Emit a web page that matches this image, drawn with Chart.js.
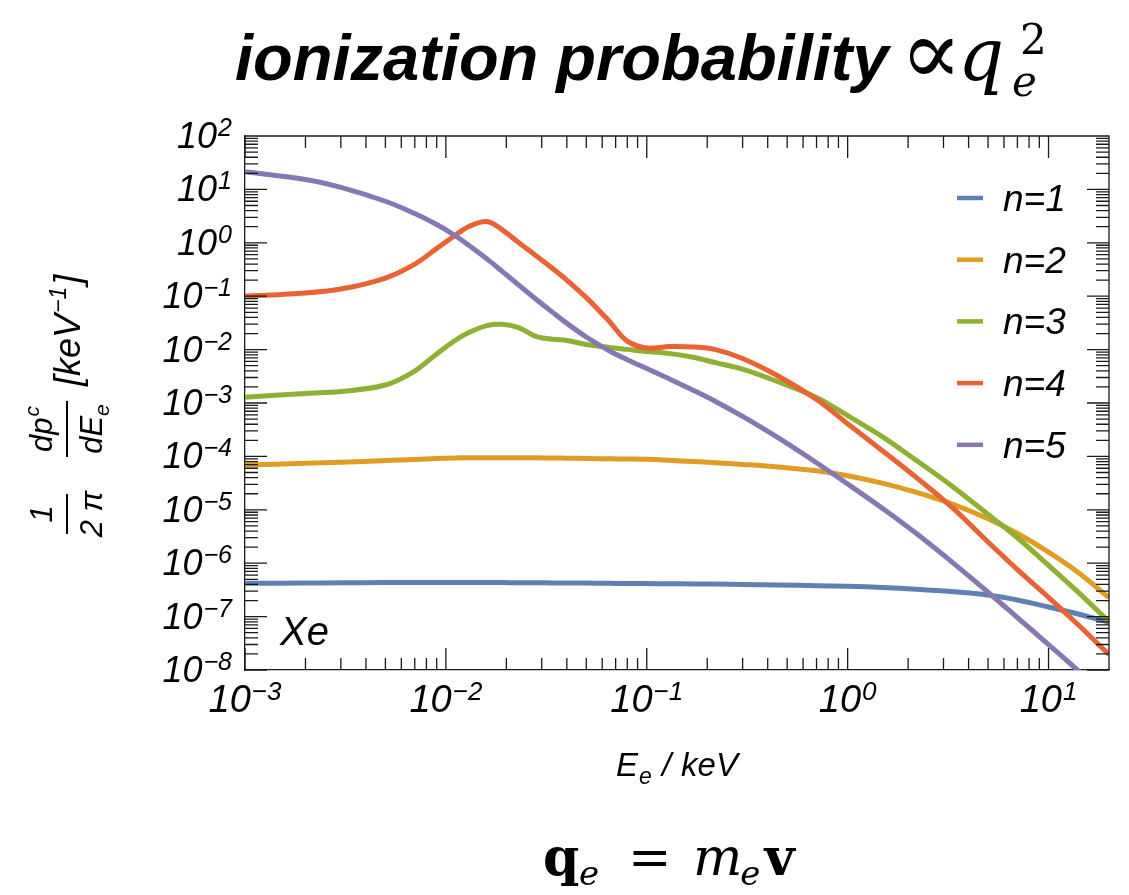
<!DOCTYPE html>
<html>
<head>
<meta charset="utf-8">
<script src="https://cdn.jsdelivr.net/npm/chart.js@4.4.1/dist/chart.umd.min.js"></script>
<style>
  html, body { margin: 0; padding: 0; background: #fff; }
</style>
</head>
<body>
<canvas id="ionization" width="1129" height="895"></canvas>
<script>
// electron energy E_e in keV
const energy = [0.001, 0.002, 0.003, 0.005, 0.007, 0.009, 0.011, 0.013, 0.016, 0.019, 0.023,
    0.028, 0.034, 0.04, 0.05, 0.065, 0.08, 0.1, 0.13, 0.17, 0.22, 0.3, 0.45, 0.7, 1, 1.5,
    2.2, 3.3, 5, 7, 10, 14, 20];

const n1 = [4.2e-7, 4.25e-7, 4.3e-7, 4.33e-7, 4.35e-7, 4.35e-7, 4.35e-7, 4.35e-7, 4.35e-7,
    4.33e-7, 4.32e-7, 4.3e-7, 4.28e-7, 4.26e-7, 4.24e-7, 4.2e-7, 4.18e-7, 4.16e-7, 4.12e-7,
    4.09e-7, 4.06e-7, 4.0e-7, 3.92e-7, 3.8e-7, 3.7e-7, 3.51e-7, 3.26e-7, 2.94e-7, 2.54e-7,
    2.05e-7, 1.51e-7, 1.12e-7, 7.9e-8];
const n2 = [6.9e-5, 7.43e-5, 7.76e-5, 8.34e-5, 8.79e-5, 9.14e-5, 9.33e-5, 9.42e-5, 9.46e-5,
    9.46e-5, 9.46e-5, 9.42e-5, 9.33e-5, 9.25e-5, 9.14e-5, 9.02e-5, 8.94e-5, 8.83e-5, 8.45e-5,
    8.02e-5, 7.62e-5, 7.08e-5, 6.33e-5, 5.37e-5, 4.35e-5, 3.12e-5, 2.12e-5, 1.29e-5, 6.78e-6,
    3.6e-6, 1.61e-6, 6.78e-7, 2.26e-7];
const n3 = [1.28e-3, 1.51e-3, 1.64e-3, 2.17e-3, 3.97e-3, 8.3e-3, 0.0145, 0.0209, 0.0282,
    0.0298, 0.0259, 0.0177, 0.0156, 0.0148, 0.0125, 0.011, 0.0101, 0.0092, 0.0084, 0.0072,
    0.0057, 0.0043, 0.0025, 1.27e-3, 5.8e-4, 2.3e-4, 8.4e-5, 2.8e-5, 8.2e-6, 3.0e-6,
    9.1e-7, 2.9e-7, 8.0e-8];
const n4 = [0.1, 0.115, 0.136, 0.219, 0.4, 0.78, 1.34, 2.02, 2.5, 1.77, 1.01, 0.58, 0.33,
    0.2, 0.094, 0.034, 0.0144, 0.0107, 0.0114, 0.0112, 0.01, 0.0068, 0.0032, 0.00116,
    4.1e-4, 1.25e-4, 4.0e-5, 1.12e-5, 2.5e-6, 7.6e-7, 2.3e-7, 7.1e-8, 1.95e-8];
const n5 = [21.4, 15.3, 10.9, 6.0, 3.53, 2.2, 1.4, 0.9, 0.5, 0.295, 0.163, 0.0887, 0.0498,
    0.0311, 0.0172, 0.00953, 0.00647, 0.00443, 0.00281, 0.00174, 0.00107, 5.6e-4, 2.24e-4,
    7.6e-5, 3.05e-5, 1.05e-5, 3.6e-6, 1.06e-6, 2.86e-7, 9.6e-8, 3.0e-8, 9.8e-9, 3.0e-9];

const seriesLabels = ['n=1', 'n=2', 'n=3', 'n=4', 'n=5'];
const seriesColors = ['#5e81b5', '#e19c24', '#8fb032', '#eb6235', '#8778b3'];
const xTickExps = [-3, -2, -1, 0, 1];
const yTickExps = [-8, -7, -6, -5, -4, -3, -2, -1, 0, 1, 2];

const SANS = '"Liberation Sans", Arial, sans-serif';
const SERIF = '"DejaVu Serif", "Liberation Serif", serif';

// draw a row of text pieces with their own fonts
function drawRuns(ctx, runs, x, y, align) {
    let w = 0;
    for (const r of runs) {
        ctx.font = r.font;
        r.w = ctx.measureText(r.t).width;
        w += r.w + (r.gap || 0);
    }
    let cx = align === 'center' ? x - w / 2 : align === 'right' ? x - w : x;
    for (const r of runs) {
        ctx.font = r.font;
        ctx.fillText(r.t, cx, y + (r.dy || 0));
        cx += r.w + (r.gap || 0);
    }
    return w;
}

function powRuns(e, size, supSize, rise) {
    const s = e < 0 ? '\u2212' + (-e) : String(e);
    return [
        {t: '10', font: 'italic ' + size + 'px ' + SANS, gap: 1},
        {t: s, font: 'italic ' + supSize + 'px ' + SANS, dy: -rise},
    ];
}

const decor = {
    id: 'decor',
    afterDraw(chart) {
        const {ctx, chartArea: a, scales: {x, y}} = chart;
        ctx.save();
        ctx.textAlign = 'left';
        ctx.textBaseline = 'alphabetic';

        // frame top/right + inward ticks
        ctx.strokeStyle = '#1a1a1a';
        ctx.lineWidth = 1.3;
        ctx.beginPath();
        ctx.moveTo(a.left, a.top);
        ctx.lineTo(a.right, a.top);
        ctx.lineTo(a.right, a.bottom);
        for (let d = -3; d <= 1; d++) {
            for (let k = 1; k <= 9; k++) {
                const v = k * Math.pow(10, d);
                if (v < x.min * 0.999 || v > x.max * 1.001) continue;
                const px = x.getPixelForValue(v);
                const len = k === 1 ? 22 : 12;
                ctx.moveTo(px, a.bottom);
                ctx.lineTo(px, a.bottom - len);
                ctx.moveTo(px, a.top);
                ctx.lineTo(px, a.top + len);
            }
        }
        for (let d = -8; d <= 1; d++) {
            for (let k = 1; k <= 9; k++) {
                const v = k * Math.pow(10, d);
                const py = y.getPixelForValue(v);
                const len = k === 1 ? 22 : 13;
                ctx.moveTo(a.left, py);
                ctx.lineTo(a.left + len, py);
                ctx.moveTo(a.right, py);
                ctx.lineTo(a.right - len, py);
            }
        }
        ctx.stroke();

        ctx.fillStyle = '#000';
        // tick labels
        xTickExps.forEach(e => {
            drawRuns(ctx, powRuns(e, 38, 26, 12), x.getPixelForValue(Math.pow(10, e)), a.bottom + 42, 'center');
        });
        yTickExps.forEach(e => {
            drawRuns(ctx, powRuns(e, 36, 25, 12), a.left - 13, y.getPixelForValue(Math.pow(10, e)) + 12, 'right');
        });

        // x axis title
        drawRuns(ctx, [
            {t: 'E', font: 'italic 33px ' + SANS, gap: 1},
            {t: 'e', font: 'italic 23px ' + SANS, dy: 8, gap: 10},
            {t: '/', font: 'italic 33px ' + SANS, gap: 10},
            {t: 'keV', font: 'italic 33px ' + SANS},
        ], (a.left + a.right) / 2, a.bottom + 106, 'center');

        // y axis title, rotated
        ctx.save();
        ctx.translate(67, (a.top + a.bottom) / 2);
        ctx.rotate(-Math.PI / 2);
        ctx.fillRect(-131, -1, 40, 2);
        ctx.fillRect(-54, -1, 56, 2);
        const fr = 'italic 31px ' + SANS;
        const frs = 'italic 21px ' + SANS;
        drawRuns(ctx, [{t: '1', font: fr}], -111, -15, 'center');
        drawRuns(ctx, [{t: '2 \u03c0', font: fr}], -111, 35, 'center');
        drawRuns(ctx, [{t: 'dp', font: fr, gap: 1}, {t: 'c', font: frs, dy: -13}], -26, -15, 'center');
        drawRuns(ctx, [{t: 'dE', font: fr}, {t: 'e', font: frs, dy: 7}], -26, 35, 'center');
        drawRuns(ctx, [
            {t: '[keV', font: 'italic 36px ' + SANS, gap: 1},
            {t: '\u22121', font: 'italic 23px ' + SANS, dy: -14, gap: 2},
            {t: ']', font: 'italic 36px ' + SANS},
        ], 17, 13, 'left');
        ctx.restore();

        // element label
        ctx.font = 'italic 40px ' + SANS;
        ctx.fillText('Xe', a.left + 35, a.bottom - 25);

        // legend
        chart.data.datasets.forEach((ds, i) => {
            const ly = a.top + 62 + i * 61.7;
            ctx.strokeStyle = ds.borderColor;
            ctx.lineWidth = 4.5;
            ctx.beginPath();
            ctx.moveTo(957, ly);
            ctx.lineTo(983, ly);
            ctx.stroke();
            ctx.font = 'italic 37px ' + SANS;
            ctx.fillText(ds.label, 1003, ly + 13);
        });

        // title
        ctx.font = 'italic bold 65px ' + SANS;
        ctx.fillText('ionization probability', 235, 80);
        ctx.font = '92px "Liberation Serif", "DejaVu Serif", serif';
        ctx.fillText('\u221d', 900, 84);
        ctx.font = 'italic 72px ' + SERIF;
        ctx.fillText('q', 958, 80);
        ctx.font = 'italic 42px ' + SERIF;
        ctx.fillText('e', 1012, 96);
        ctx.font = '42px ' + SERIF;
        ctx.fillText('2', 1020, 54);

        // formula under the chart
        const fb = 875;
        const big = 52, small = 34;
        ctx.font = 'bold ' + big + 'px ' + SERIF;
        ctx.fillText('q', 543, fb);
        ctx.font = 'italic ' + small + 'px ' + SERIF;
        ctx.fillText('e', 579, fb + 10);
        ctx.font = big + 'px ' + SERIF;
        ctx.fillText('=', 628, fb);
        ctx.font = 'italic ' + big + 'px ' + SERIF;
        ctx.fillText('m', 693, fb);
        const mw = ctx.measureText('m').width;
        ctx.font = 'italic ' + small + 'px ' + SERIF;
        ctx.fillText('e', 693 + mw - 2, fb + 10);
        const ew = ctx.measureText('e').width;
        ctx.font = 'bold ' + big + 'px ' + SERIF;
        ctx.fillText('v', 693 + mw + ew + 2, fb);

        ctx.restore();
    }
};

const datasets = [n1, n2, n3, n4, n5].map((vals, i) => ({
    label: seriesLabels[i],
    data: energy.map((e, j) => ({x: e, y: vals[j]})),
    borderColor: seriesColors[i],
    borderWidth: 5,
    pointRadius: 0,
    fill: false,
    tension: 0.35,
    order: 4 - i,
}));

new Chart(document.getElementById('ionization'), {
    type: 'line',
    data: {datasets: datasets},
    options: {
        responsive: false,
        animation: false,
        devicePixelRatio: 1,
        events: [],
        layout: {padding: {left: 245, top: 136, right: 20, bottom: 225}},
        plugins: {legend: {display: false}, tooltip: {enabled: false}, title: {display: false}},
        scales: {
            x: {
                type: 'logarithmic', min: 0.001, max: 20,
                ticks: {display: false},
                grid: {display: false, drawTicks: false},
                border: {display: true, color: '#1a1a1a', width: 1.3},
            },
            y: {
                type: 'logarithmic', min: 1e-8, max: 100,
                ticks: {display: false},
                grid: {display: false, drawTicks: false},
                border: {display: true, color: '#1a1a1a', width: 1.3},
            },
        },
    },
    plugins: [decor],
});
</script>
</body>
</html>
